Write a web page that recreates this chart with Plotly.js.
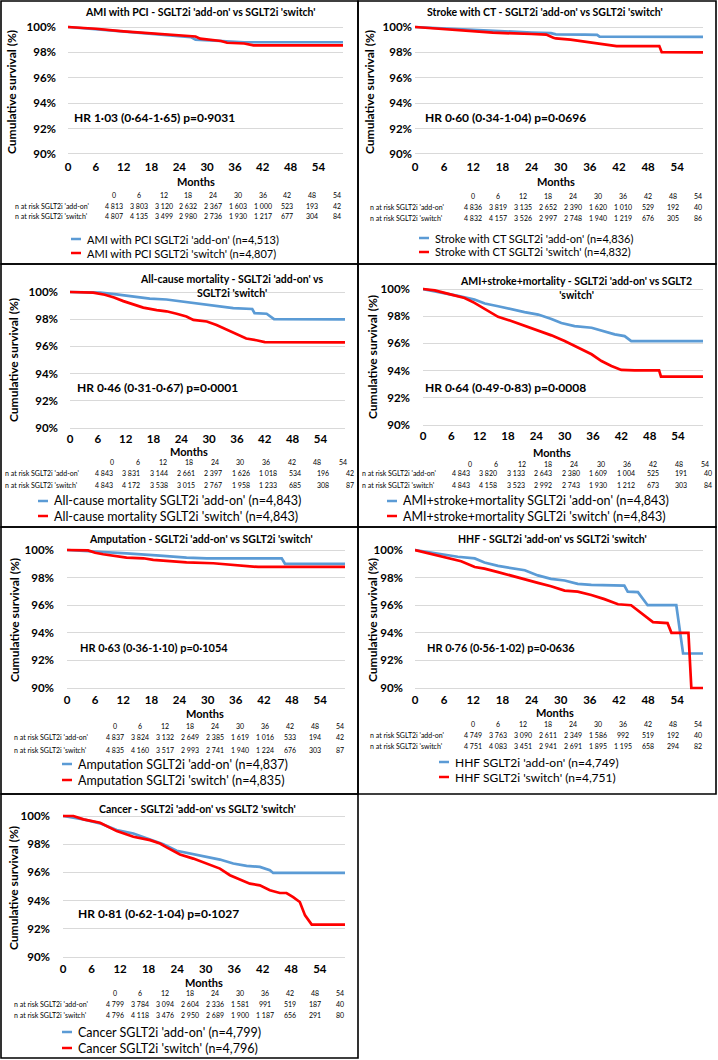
<!DOCTYPE html>
<html><head><meta charset="utf-8">
<script src="https://cdn.plot.ly/plotly-3.0.1.min.js"></script>
<style>html,body{margin:0;padding:0;background:#fff}#chart{width:718px;height:1060px}</style>
</head><body><div id="chart"></div>
<script>
// ---------- DATA ----------
const atRiskMonths = [0, 6, 12, 18, 24, 30, 36, 42, 48, 54];
const yTickVals = [90, 92, 94, 96, 98, 100];
const yTickText = ['90%', '92%', '94%', '96%', '98%', '100%'];

// 1. AMI with PCI
const amiAddOnMonths = [0, 6, 12, 18, 24, 26.5, 27.5, 32, 38, 59.3];
const amiAddOnSurv   = [100, 99.82, 99.6, 99.47, 99.3, 99.2, 99.0, 98.92, 98.8, 98.8];
const amiSwitchMonths = [0, 6, 12, 18, 24, 27.5, 28.5, 31, 33, 34.3, 38, 40, 59.3];
const amiSwitchSurv   = [100, 99.86, 99.66, 99.5, 99.35, 99.25, 99.08, 99.0, 98.9, 98.76, 98.7, 98.55, 98.55];
const amiAddOnRisk  = [4813, 3803, 3120, 2632, 2367, 1603, 1000, 523, 193, 42];
const amiSwitchRisk = [4807, 4135, 3499, 2980, 2736, 1930, 1217, 677, 304, 84];

// 2. Stroke with CT
const strokeAddOnMonths = [0, 8, 16, 24, 28, 29, 35, 37.5, 38, 59.3];
const strokeAddOnSurv   = [100, 99.84, 99.68, 99.56, 99.52, 99.42, 99.4, 99.38, 99.24, 99.22];
const strokeSwitchMonths = [0, 8, 12, 16, 24, 27, 28.5, 29, 32, 34, 35.5, 37.5, 39, 41.5, 50.3, 50.8, 59.3];
const strokeSwitchSurv   = [100, 99.78, 99.7, 99.55, 99.45, 99.4, 99.15, 99.1, 99.0, 98.9, 98.8, 98.7, 98.62, 98.5, 98.5, 98.02, 98.0];
const strokeAddOnRisk  = [4836, 3819, 3135, 2652, 2390, 1620, 1010, 529, 192, 40];
const strokeSwitchRisk = [4832, 4157, 3526, 2997, 2748, 1940, 1219, 676, 305, 86];

// 3. All-cause mortality
const mortAddOnMonths = [0, 6.5, 10, 13.6, 17.2, 20.8, 24.4, 28, 31.6, 35.2, 39.3, 39.8, 42.4, 44, 59.3];
const mortAddOnSurv   = [100, 99.95, 99.83, 99.7, 99.52, 99.45, 99.3, 99.15, 98.95, 98.82, 98.75, 98.45, 98.4, 98.0, 97.98];
const mortSwitchMonths = [0, 5, 7.5, 9.5, 11.5, 13.6, 15.8, 18.7, 20.8, 23, 25.1, 26.6, 29.5, 31.6, 33.8, 36, 38, 40.2, 42, 59.3];
const mortSwitchSurv   = [100, 99.95, 99.8, 99.6, 99.33, 99.08, 98.85, 98.67, 98.58, 98.4, 98.2, 97.95, 97.83, 97.58, 97.25, 96.9, 96.58, 96.45, 96.32, 96.3];
const mortAddOnRisk  = [4843, 3831, 3144, 2661, 2397, 1626, 1018, 534, 196, 42];
const mortSwitchRisk = [4843, 4172, 3538, 3015, 2767, 1958, 1233, 685, 308, 87];

// 4. AMI+stroke+mortality
const maceAddOnMonths = [0, 3.9, 7.4, 10.9, 13.1, 15.9, 18.7, 21.5, 24.4, 27.2, 29.3, 32.1, 35.7, 38.5, 40.6, 42.7, 44.1, 59.3];
const maceAddOnSurv   = [100, 99.76, 99.5, 99.22, 98.93, 98.73, 98.49, 98.3, 98.12, 97.8, 97.5, 97.27, 97.15, 96.9, 96.66, 96.54, 96.17, 96.17];
const maceSwitchMonths = [0, 2.5, 6, 8.8, 10.9, 13.1, 15.9, 18.7, 21.5, 22.9, 25.8, 27.2, 30, 32.8, 35.7, 37.8, 39.9, 42, 44.8, 50, 50.4, 59.3];
const maceSwitchSurv   = [100, 99.9, 99.59, 99.34, 98.98, 98.55, 97.95, 97.65, 97.32, 97.15, 96.78, 96.59, 96.17, 95.68, 95.2, 94.7, 94.34, 94.05, 94.02, 94.02, 93.56, 93.56];
const maceAddOnRisk  = [4843, 3820, 3133, 2643, 2380, 1609, 1004, 525, 191, 40];
const maceSwitchRisk = [4843, 4158, 3523, 2992, 2743, 1930, 1212, 673, 303, 84];

// 5. Amputation
const ampAddOnMonths = [0, 7, 12.7, 19.8, 25.5, 29.8, 45.8, 46.5, 59.3];
const ampAddOnSurv   = [100, 99.88, 99.76, 99.59, 99.45, 99.4, 99.4, 99.0, 98.99];
const ampSwitchMonths = [0, 4.5, 6, 7.7, 12.7, 16.3, 18.4, 21.3, 25.5, 31.2, 35.5, 39.7, 40.8, 59.3];
const ampSwitchSurv   = [100, 99.97, 99.8, 99.69, 99.45, 99.4, 99.28, 99.2, 99.1, 99.04, 98.92, 98.84, 98.77, 98.77];
const ampAddOnRisk  = [4837, 3824, 3132, 2649, 2385, 1619, 1016, 533, 194, 42];
const ampSwitchRisk = [4835, 4160, 3517, 2993, 2741, 1940, 1224, 676, 303, 87];

// 6. HHF
const hhfAddOnMonths = [0, 5.4, 8.8, 12.3, 14.3, 17.1, 19.8, 22.6, 25.3, 28, 30.8, 33.5, 36.3, 43.1, 43.8, 45.9, 47.9, 53.8, 55.2, 59.3];
const hhfAddOnSurv   = [100, 99.68, 99.51, 99.39, 99.09, 98.85, 98.7, 98.53, 98.16, 97.91, 97.79, 97.55, 97.47, 97.42, 96.98, 96.95, 96.0, 96.0, 92.5, 92.5];
const hhfSwitchMonths = [0, 2, 4.7, 7.5, 9.5, 12.3, 14.3, 17.1, 19.8, 22.6, 25.3, 28, 30.8, 33.5, 36.3, 39, 41.8, 44.5, 47.3, 49, 52, 52.8, 56.3, 56.9, 59.3];
const hhfSwitchSurv   = [100, 99.83, 99.58, 99.39, 99.19, 98.77, 98.65, 98.4, 98.16, 97.91, 97.62, 97.37, 97.06, 96.98, 96.74, 96.44, 96.07, 96.0, 95.2, 94.77, 94.7, 94.0, 94.0, 90.0, 90.0];
const hhfAddOnRisk  = [4749, 3763, 3090, 2611, 2349, 1586, 992, 519, 192, 40];
const hhfSwitchRisk = [4751, 4083, 3451, 2941, 2691, 1895, 1195, 658, 294, 82];

// 7. Cancer
const cancerAddOnMonths = [0, 4.3, 7.8, 11.3, 14.8, 18.3, 21.1, 23.9, 27.4, 30.2, 33, 35.8, 38.6, 41.4, 43.5, 44.2, 59.3];
const cancerAddOnSurv   = [100, 99.76, 99.48, 99.0, 98.76, 98.34, 98.0, 97.53, 97.29, 97.15, 96.91, 96.63, 96.46, 96.39, 96.15, 95.96, 95.96];
const cancerSwitchMonths = [0, 2.2, 4.3, 7.8, 11.3, 14.8, 18.3, 20.4, 21.8, 24.6, 27.4, 30.2, 33, 35.1, 36.9, 39.3, 41.4, 43.5, 45.6, 47, 48.4, 49.8, 50.9, 52.3, 59.3];
const cancerSwitchSurv   = [100, 100, 99.76, 99.52, 98.93, 98.53, 98.29, 98.05, 97.77, 97.27, 96.98, 96.63, 96.27, 95.8, 95.56, 95.2, 95.08, 94.73, 94.54, 94.54, 94.25, 93.9, 92.95, 92.3, 92.3];
const cancerAddOnRisk  = [4799, 3784, 3094, 2604, 2336, 1581, 991, 519, 187, 40];
const cancerSwitchRisk = [4796, 4118, 3476, 2950, 2689, 1900, 1187, 656, 291, 80];

const panelTitles = [
  "AMI with PCI - SGLT2i 'add-on' vs SGLT2i 'switch'",
  "Stroke with CT - SGLT2i 'add-on' vs SGLT2i 'switch'",
  "All-cause mortality - SGLT2i 'add-on' vs<br>SGLT2i 'switch'",
  "AMI+stroke+mortality - SGLT2i 'add-on' vs SGLT2<br>'switch'",
  "Amputation - SGLT2i 'add-on' vs SGLT2i 'switch'",
  "HHF - SGLT2i 'add-on' vs SGLT2i 'switch'",
  "Cancer - SGLT2i 'add-on' vs SGLT2 'switch'"
];
const hrTexts = [
  "HR 1·03 (0·64-1·65) p=0·9031",
  "HR 0·60 (0·34-1·04) p=0·0696",
  "HR 0·46 (0·31-0·67) p=0·0001",
  "HR 0·64 (0·49-0·83) p=0·0008",
  "HR 0·63 (0·36-1·10) p=0·1054",
  "HR 0·76 (0·56-1·02) p=0·0636",
  "HR 0·81 (0·62-1·04) p=0·1027"
];
const addOnNames = [
  "AMI with PCI SGLT2i 'add-on' (n=4,513)",
  "Stroke with CT SGLT2i 'add-on' (n=4,836)",
  "All-cause mortality SGLT2i 'add-on' (n=4,843)",
  "AMI+stroke+mortality SGLT2i 'add-on' (n=4,843)",
  "Amputation SGLT2i 'add-on' (n=4,837)",
  "HHF SGLT2i 'add-on' (n=4,749)",
  "Cancer SGLT2i 'add-on' (n=4,799)"
];
const switchNames = [
  "AMI with PCI SGLT2i 'switch' (n=4,807)",
  "Stroke with CT SGLT2i 'switch' (n=4,832)",
  "All-cause mortality SGLT2i 'switch' (n=4,843)",
  "AMI+stroke+mortality SGLT2i 'switch' (n=4,843)",
  "Amputation SGLT2i 'switch' (n=4,835)",
  "HHF SGLT2i 'switch' (n=4,751)",
  "Cancer SGLT2i 'switch' (n=4,796)"
];
const riskRowLabels = ["n at risk SGLT2i 'add-on'", "n at risk SGLT2i 'switch'"];
const yAxisTitle = "Cumulative survival (%)";
const xAxisTitle = "Months";

// ---------- LAYOUT GEOMETRY (pixels) ----------
const W = 718, H = 1060, XMAX = 59.3, YLO = 89.8, YHI = 100.15;
const FONT = "Lato, 'Open Sans', sans-serif";
const BLUE = '#5B9BD5', RED = '#FF0000';

const series = [
  [amiAddOnMonths, amiAddOnSurv, amiSwitchMonths, amiSwitchSurv, amiAddOnRisk, amiSwitchRisk],
  [strokeAddOnMonths, strokeAddOnSurv, strokeSwitchMonths, strokeSwitchSurv, strokeAddOnRisk, strokeSwitchRisk],
  [mortAddOnMonths, mortAddOnSurv, mortSwitchMonths, mortSwitchSurv, mortAddOnRisk, mortSwitchRisk],
  [maceAddOnMonths, maceAddOnSurv, maceSwitchMonths, maceSwitchSurv, maceAddOnRisk, maceSwitchRisk],
  [ampAddOnMonths, ampAddOnSurv, ampSwitchMonths, ampSwitchSurv, ampAddOnRisk, ampSwitchRisk],
  [hhfAddOnMonths, hhfAddOnSurv, hhfSwitchMonths, hhfSwitchSurv, hhfAddOnRisk, hhfSwitchRisk],
  [cancerAddOnMonths, cancerAddOnSurv, cancerSwitchMonths, cancerSwitchSurv, cancerAddOnRisk, cancerSwitchRisk]
];

// h0/h9: header column centres; c0/c9: value column centres
const geo = [
  {box:[1,1,358,264], x0:68, x1:343, y100:27, y90:154, tx:200, ty:12, hx:72, hy:118, hs:12, yx:12, yy:92, mx:196, my:181,
   lx:13, h0:114, h9:337, c0:114, c9:337, yh:195, r1:206, r2:216, gx:85, gy1:239, gy2:253, gs:11, ys:11, xs:2},
  {box:[358,1,716,264], x0:415, x1:703, y100:27, y90:154, tx:545, ty:12, hx:423, hy:118, hs:12, yx:370, yy:92, mx:556, my:181,
   lx:368, h0:473, h9:698, c0:473, c9:698, yh:196, r1:207, r2:218, gx:433, gy1:238, gy2:252, gs:11, ys:2, xs:2},
  {box:[1,264,358,527], x0:70, x1:345, y100:292, y90:428, tx:231, ty:286, hx:75, hy:388, hs:12, yx:14, yy:360, mx:189, my:451,
   lx:3, h0:112, h9:343, c0:104, c9:350, yh:462, r1:473, r2:485, gx:52, gy1:501, gy2:516, gs:12.5, ys:11, xs:0},
  {box:[358,264,716,527], x0:423, x1:703, y100:289, y90:425, tx:576, ty:288, hx:423, hy:388, hs:12, yx:372, yy:357, mx:552, my:452,
   lx:360, h0:470, h9:705, c0:461, c9:708, yh:464, r1:473, r2:485, gx:401, gy1:501, gy2:516, gs:12.5, ys:12, xs:0},
  {box:[1,527,358,794], x0:67, x1:345, y100:550, y90:688, tx:201, ty:539, hx:78, hy:647, hs:11, yx:14, yy:620, mx:205, my:713,
   lx:12, h0:115, h9:340, c0:115, c9:340, yh:726, r1:737, r2:750, gx:76, gy1:764, gy2:780, gs:12.5, ys:12, xs:1},
  {box:[358,527,716,794], x0:415, x1:703, y100:550, y90:688, tx:552, ty:539, hx:425, hy:647, hs:11, yx:372, yy:620, mx:555, my:712,
   lx:368, h0:473, h9:698, c0:473, c9:698, yh:724, r1:735, r2:746, gx:453, gy1:762, gy2:777, gs:12, ys:11, xs:1},
  {box:[1,794,358,1058], x0:63, x1:345, y100:816, y90:957, tx:197, ty:809, hx:76, hy:913, hs:12, yx:13, yy:888, mx:204, my:982,
   lx:12, h0:115, h9:340, c0:115, c9:340, yh:993, r1:1004, r2:1015, gx:76, gy1:1032, gy2:1048, gs:12.5, ys:12, xs:1}
];

const px = v => v / W;
const py = v => 1 - v / H;
const fmt = n => String(n).replace(/\B(?=(\d{3})+(?!\d))/g, ' ');

const traces = [], annotations = [], shapes = [];
const layout = {
  width: W, height: H, margin: {l:0, r:0, t:0, b:0},
  paper_bgcolor: '#fff', plot_bgcolor: 'rgba(0,0,0,0)',
  font: {family: FONT, color: '#000'}, hovermode: false, showlegend: false
};

geo.forEach((g, i) => {
  const n = i === 0 ? '' : String(i + 1);
  const s = series[i];
  traces.push({x: s[0], y: s[1], type: 'scatter', mode: 'lines', name: addOnNames[i],
    line: {color: BLUE, width: 2.7}, xaxis: 'x' + n, yaxis: 'y' + n});
  traces.push({x: s[2], y: s[3], type: 'scatter', mode: 'lines', name: switchNames[i],
    line: {color: RED, width: 2.7}, xaxis: 'x' + n, yaxis: 'y' + n});

  const ppu = (g.y90 - g.y100) / 10;
  const topPx = g.y100 - (YHI - 100) * ppu;
  const botPx = g.y90 + (90 - YLO) * ppu;
  layout['xaxis' + n] = {
    domain: [px(g.x0), px(g.x1)], range: [0, XMAX], anchor: 'y' + n,
    tickvals: atRiskMonths, ticktext: atRiskMonths.map(String),
    showgrid: false, zeroline: false, showline: false, ticks: '', fixedrange: true,
    tickfont: {family: FONT, size: 11.5, color: '#000', weight: 'bold'}, ticklabelstandoff: g.xs
  };
  layout['yaxis' + n] = {
    domain: [py(botPx), py(topPx)], range: [YLO, YHI], anchor: 'x' + n,
    tickvals: yTickVals, ticktext: yTickText,
    showgrid: true, gridcolor: '#d9d9d9', gridwidth: 1, zeroline: false, showline: false, ticks: '',
    fixedrange: true, tickfont: {family: FONT, size: 11.5, color: '#000', weight: 'bold'}, ticklabelstandoff: g.ys
  };

  const ann = (x, y, text, size, opts) => annotations.push(Object.assign({
    xref: 'paper', yref: 'paper', x: px(x), y: py(y), text: text, showarrow: false,
    xanchor: 'center', yanchor: 'middle', font: {family: FONT, size: size, color: '#000'}
  }, opts || {}));
  const bold = size => ({family: FONT, size: size, color: '#000', weight: 'bold'});

  ann(g.tx, g.ty, panelTitles[i], 10.5, {font: bold(10.5)});
  ann(g.hx, g.hy, hrTexts[i], g.hs, {xanchor: 'left', font: bold(g.hs)});
  ann(g.yx, g.yy, yAxisTitle, 12, {textangle: -90, font: bold(12)});
  ann(g.mx, g.my, xAxisTitle, 11, {font: bold(11)});

  const hStep = (g.h9 - g.h0) / 9, cStep = (g.c9 - g.c0) / 9;
  atRiskMonths.forEach((m, k) => {
    ann(g.h0 + k * hStep, g.yh, String(m), 7);
    ann(g.c0 + k * cStep, g.r1, fmt(s[4][k]), 7);
    ann(g.c0 + k * cStep, g.r2, fmt(s[5][k]), 7);
  });
  ann(g.lx, g.r1, riskRowLabels[0], 7, {xanchor: 'left'});
  ann(g.lx, g.r2, riskRowLabels[1], 7, {xanchor: 'left'});

  // legend (key line + label)
  [[g.gy1, BLUE, addOnNames[i]], [g.gy2, RED, switchNames[i]]].forEach(([yy, col, txt]) => {
    shapes.push({type: 'line', xref: 'paper', yref: 'paper', x0: px(g.gx - 14), x1: px(g.gx - 4),
      y0: py(yy), y1: py(yy), line: {color: col, width: 2.5}});
    ann(g.gx, yy, txt, g.gs, {xanchor: 'left'});
  });

  shapes.push({type: 'rect', xref: 'paper', yref: 'paper',
    x0: px(g.box[0]), x1: px(g.box[2]), y0: py(g.box[1]), y1: py(g.box[3]),
    line: {color: '#000', width: 1.6}, fillcolor: 'rgba(0,0,0,0)', layer: 'above'});
});

layout.annotations = annotations;
layout.shapes = shapes;

Plotly.newPlot('chart', traces, layout, {displayModeBar: false, staticPlot: true});
</script></body></html>
